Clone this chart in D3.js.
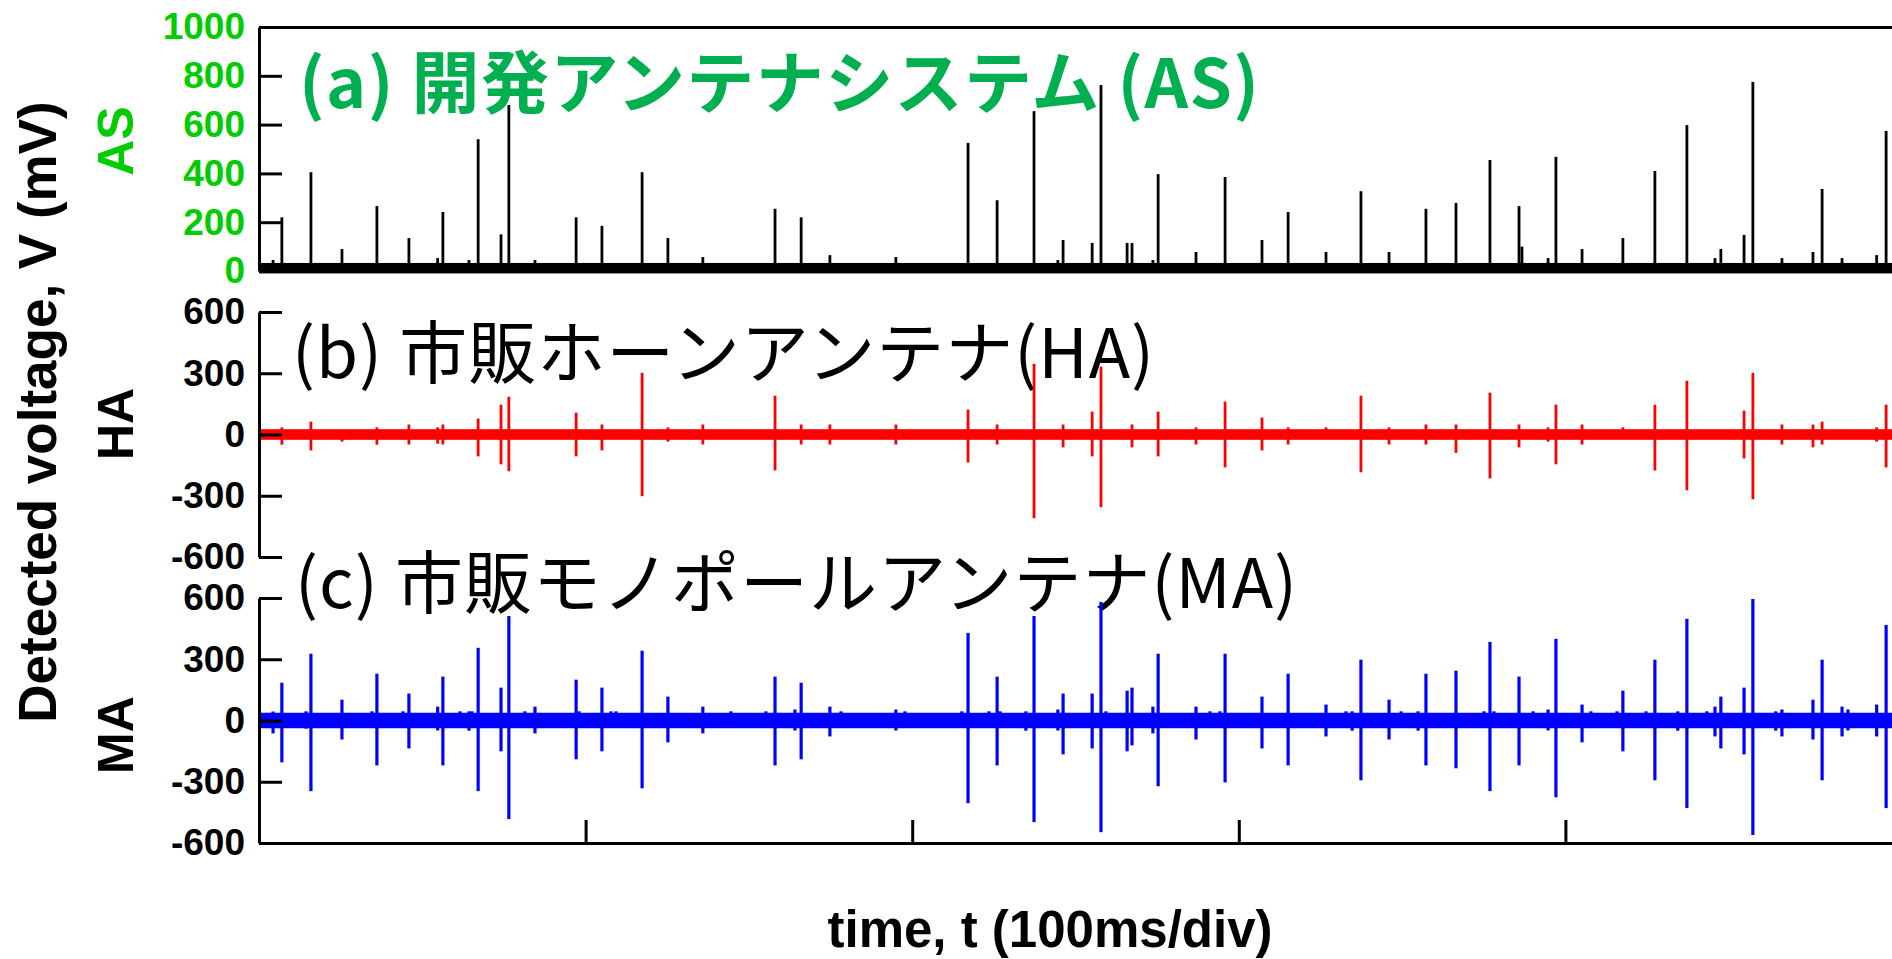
<!DOCTYPE html>
<html>
<head>
  <meta charset="utf-8">
  <title>Detected voltage</title>
  <script src="https://d3js.org/d3.v7.min.js"></script>
  <style>
    body { margin: 0; background: #fff; }
    svg { display: block; }
  </style>
</head>
<body>
  <div id="chart"></div>
  <script>
    // tick values
    const timeTicks = [100, 200, 300, 400];
    const asTicks = [0, 200, 400, 600, 800, 1000];
    const bipolarTicks = [-600, -300, 0, 300, 600];

    // (a) developed antenna system: pulse time (ms), peak (mV)
    const asTimes = [4.3, 7.0, 15.9, 25.4, 36.1, 45.9, 54.7, 56.3, 64.3, 67.1, 74.1, 76.5, 84.5, 97.1, 105.0,
      117.3, 125.2, 135.9, 158.0, 166.0, 174.8, 195.0, 217.1, 226.0, 237.3, 244.6, 246.2, 255.1, 257.8,
      265.8, 267.3, 273.7, 275.3, 286.9, 295.8, 307.1, 315.1, 326.7, 337.4, 346.0, 357.3, 366.5, 376.9,
      385.8, 386.7, 394.7, 397.1, 405.1, 417.6, 427.4, 437.2, 445.8, 447.6, 454.7, 457.4, 466.3, 475.8,
      478.6, 484.7, 495.3, 498.2];
    const asPeaks = [45, 220, 405, 90, 266, 135, 53, 242, 45, 540, 150, 680, 45, 220, 185,
      405, 135, 57, 255, 220, 65, 57, 525, 290, 655, 45, 127, 115, 762,
      115, 115, 45, 397, 78, 385, 127, 242, 78, 327, 78, 255, 279, 455,
      266, 100, 53, 468, 90, 135, 410, 598, 53, 90, 148, 775, 53, 78,
      336, 53, 65, 574];
    const asNoise = [-10, 33];

    // (b) commercial horn antenna
    const haTimes = [7.0, 15.9, 25.4, 36.1, 45.9, 54.7, 56.3, 67.1, 74.1, 76.5, 97.1, 105.0, 117.3, 125.2,
      135.9, 158.0, 166.0, 174.8, 195.0, 217.1, 226.0, 237.3, 246.2, 255.1, 257.8, 267.3, 275.3, 286.9,
      295.8, 307.1, 315.1, 326.7, 337.4, 346.0, 357.3, 366.5, 376.9, 385.8, 394.7, 397.1, 405.1, 417.6,
      427.4, 437.2, 454.7, 457.4, 466.3, 475.8, 478.6, 495.3, 498.2];
    const haHigh = [35, 63, 20, 35, 49, 35, 49, 78, 146, 185, 107, 49, 302, 35,
      49, 190, 49, 49, 49, 122, 49, 346, 49, 112, 332, 49, 112, 35,
      161, 83, 35, 35, 190, 35, 49, 49, 205, 49, 35, 146, 49, 35,
      146, 263, 117, 302, 49, 49, 63, 35, 146];
    const haLow = [-50, -78, -35, -50, -49, -45, -49, -107, -146, -180, -107, -78, -302, -35,
      -49, -176, -49, -49, -49, -137, -49, -410, -63, -107, -356, -63, -107, -49,
      -161, -78, -49, -20, -185, -49, -49, -90, -215, -63, -35, -146, -49, -20,
      -176, -273, -117, -317, -49, -63, -49, -35, -161];
    const haNoise = [-26, 26];

    // (c) commercial monopole antenna
    const maTimes = [4.3, 7.0, 14.4, 15.9, 25.4, 34.6, 36.1, 44.1, 45.9, 54.7, 56.3, 61.5, 64.3, 65.2, 67.1,
      74.1, 76.5, 81.4, 84.5, 97.1, 98.0, 105.0, 107.8, 109.3, 117.3, 125.2, 135.9, 144.5, 155.2, 158.0,
      164.1, 166.0, 174.8, 178.2, 195.0, 197.8, 215.2, 217.1, 223.5, 226.0, 226.9, 234.8, 237.3, 244.6,
      246.2, 255.1, 257.8, 259.3, 265.8, 267.3, 273.7, 275.3, 286.9, 291.2, 294.2, 295.8, 307.1, 315.1,
      326.7, 332.8, 334.7, 337.4, 346.0, 349.7, 354.9, 357.3, 366.5, 375.1, 376.9, 378.1, 385.8, 390.1,
      394.7, 397.1, 405.1, 407.8, 415.8, 417.6, 424.7, 427.4, 434.4, 437.2, 443.3, 445.8, 447.6, 454.7,
      457.4, 464.4, 466.3, 475.8, 478.6, 484.7, 486.5, 495.3, 498.2];
    const maHigh = [44, 185, 45, 327, 102, 45, 229, 45, 132, 68, 215, 45, 45, 45, 356,
      161, 512, 45, 68, 200, 45, 161, 45, 45, 342, 117, 68, 45, 45, 215,
      54, 185, 68, 45, 54, 45, 45, 429, 45, 215, 45, 45, 512, 54,
      132, 132, 581, 45, 146, 161, 68, 327, 68, 45, 45, 327, 117, 229,
      78, 45, 45, 298, 102, 45, 45, 229, 244, 45, 385, 45, 215, 45,
      54, 400, 78, 45, 45, 146, 45, 298, 45, 498, 45, 68, 117, 161,
      595, 45, 54, 102, 298, 68, 54, 78, 468];
    const maLow = [-63, -205, -40, -346, -93, -30, -220, -30, -137, -49, -220, -30, -50, -30, -346,
      -151, -483, -30, -63, -190, -30, -151, -30, -30, -332, -107, -63, -30, -30, -220,
      -49, -190, -78, -30, -49, -30, -30, -405, -30, -220, -30, -50, -498, -49,
      -166, -137, -547, -30, -151, -122, -63, -322, -93, -30, -30, -303, -137, -220,
      -78, -30, -50, -293, -93, -30, -50, -220, -234, -30, -346, -30, -220, -30,
      -49, -376, -107, -30, -30, -151, -30, -293, -50, -429, -30, -78, -137, -166,
      -561, -50, -78, -93, -293, -78, -49, -78, -429];
    const maNoise = [-38, 38];

    const asData = asTimes.map((t, i) => ({t: t, hi: asPeaks[i], lo: 0}));
    const haData = haTimes.map((t, i) => ({t: t, hi: haHigh[i], lo: haLow[i]}));
    const maData = maTimes.map((t, i) => ({t: t, hi: maHigh[i], lo: maLow[i]}));

    const width = 1892, height = 959;
    const latin = "'Liberation Sans', Arial, sans-serif";
    const cjk = "'Noto Sans CJK JP', 'Noto Sans CJK SC', sans-serif";

    const svg = d3.select("#chart")
                  .append("svg")
                  .attr("width", width)
                  .attr("height", height);

    // time axis, 100 ms per division
    const x = d3.scaleLinear().domain([0, 500]).range([259, 1892]);

    const panels = [
      {data: asData, noise: asNoise, ticks: asTicks, color: "#000000", labelColor: "#00cc00",
       y: d3.scaleLinear().domain([0, 1000]).range([271, 27]), name: "AS",
       title: "(a) 開発アンテナシステム (AS)", titleX: 299, titleY: 108, titleLen: 960,
       titleColor: "#00b050", titleWeight: "bold", nameY: 141, width: 2.8},
      {data: haData, noise: haNoise, ticks: bipolarTicks, color: "#ff0000", labelColor: "#000000",
       y: d3.scaleLinear().domain([-600, 600]).range([557, 312]), name: "HA",
       title: "(b) 市販ホーンアンテナ(HA)", titleX: 292, titleY: 378, titleLen: 862,
       titleColor: "#000000", titleWeight: "normal", nameY: 424, width: 2.8},
      {data: maData, noise: maNoise, ticks: bipolarTicks, color: "#0000ff", labelColor: "#000000",
       y: d3.scaleLinear().domain([-600, 600]).range([843, 598]), name: "MA",
       title: "(c) 市販モノポールアンテナ(MA)", titleX: 295, titleY: 608, titleLen: 1002,
       titleColor: "#000000", titleWeight: "normal", nameY: 735, width: 3.2}
    ];

    panels.forEach(function(p) {
      // panel title
      svg.append("text")
         .attr("x", p.titleX)
         .attr("y", p.titleY)
         .attr("textLength", p.titleLen)
         .attr("font-family", cjk)
         .attr("font-size", 68)
         .attr("font-weight", p.titleWeight)
         .attr("fill", p.titleColor)
         .text(p.title);

      // noise floor
      svg.append("rect")
         .attr("x", x(0))
         .attr("width", x(500) - x(0))
         .attr("y", p.y(p.noise[1]))
         .attr("height", p.y(p.noise[0]) - p.y(p.noise[1]))
         .attr("fill", p.color);

      // pulses
      svg.append("g")
         .selectAll("line")
         .data(p.data)
         .enter()
         .append("line")
         .attr("x1", d => x(d.t))
         .attr("x2", d => x(d.t))
         .attr("y1", d => p.y(d.lo))
         .attr("y2", d => p.y(d.hi))
         .attr("stroke", p.color)
         .attr("stroke-width", p.width);

      // y axis with inward ticks
      const ax = svg.append("g")
         .attr("transform", `translate(${x(0)},0)`)
         .call(d3.axisLeft(p.y).tickValues(p.ticks).tickFormat(d => String(d))
                 .tickSizeInner(-23).tickSizeOuter(0).tickPadding(14));
      ax.selectAll("path, line").attr("stroke", "#000").attr("stroke-width", 3);
      ax.selectAll("text")
        .attr("font-family", latin)
        .attr("font-size", 37)
        .attr("font-weight", "bold")
        .attr("fill", p.labelColor);

      // channel name
      svg.append("text")
         .attr("transform", `translate(133,${p.nameY}) rotate(-90)`)
         .attr("text-anchor", "middle")
         .attr("font-family", latin)
         .attr("font-size", 50)
         .attr("font-weight", "bold")
         .attr("fill", p.labelColor)
         .text(p.name);
    });

    // top frame line
    const topFrame = svg.append("g")
       .attr("transform", `translate(0,${panels[0].y(1000)})`)
       .call(d3.axisTop(x).tickValues([]).tickSizeOuter(0));
    topFrame.selectAll("path").attr("stroke", "#000").attr("stroke-width", 3);

    // time axis at the bottom of panel (c)
    const bottomAxis = svg.append("g")
       .attr("transform", `translate(0,${panels[2].y(-600)})`)
       .call(d3.axisBottom(x).tickValues(timeTicks).tickSizeInner(-23).tickSizeOuter(0).tickFormat(""));
    bottomAxis.selectAll("path, line").attr("stroke", "#000").attr("stroke-width", 3);

    // axis titles
    svg.append("text")
       .attr("transform", "translate(56,412) rotate(-90)")
       .attr("text-anchor", "middle")
       .attr("font-family", latin)
       .attr("font-size", 53)
       .attr("font-weight", "bold")
       .text("Detected voltage, V (mV)");

    svg.append("text")
       .attr("x", 1050)
       .attr("y", 947)
       .attr("text-anchor", "middle")
       .attr("font-family", latin)
       .attr("font-size", 51)
       .attr("font-weight", "bold")
       .text("time, t (100ms/div)");
  </script>
</body>
</html>
